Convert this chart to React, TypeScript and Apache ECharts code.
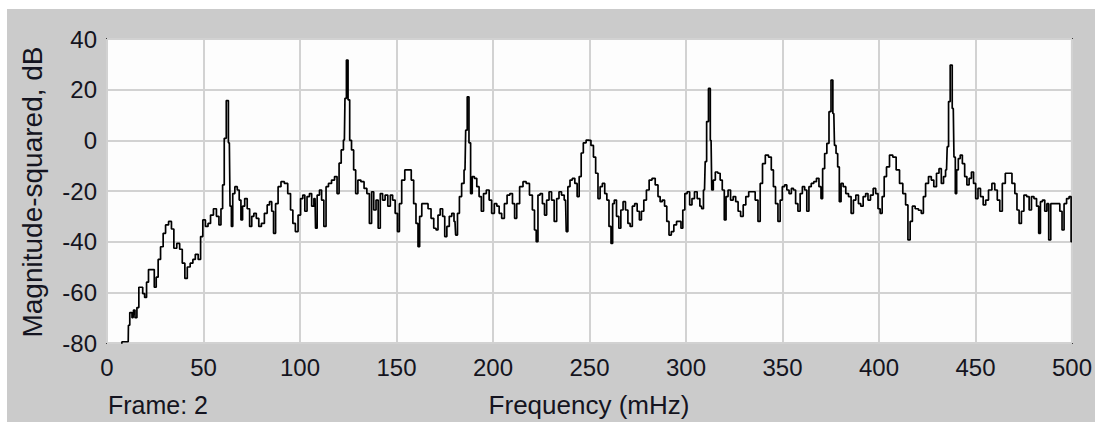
import React, { useEffect, useRef } from "react";
import * as echarts from "echarts";

const xTicks = [0, 50, 100, 150, 200, 250, 300, 350, 400, 450, 500];
const yTicks = [-80, -60, -40, -20, 0, 20, 40];

const freq = [
  0, 4, 7.5, 8, 11, 11.2, 12.4, 13.5, 14, 15, 16, 17, 18, 19, 20, 21, 22, 24, 25, 26, 27, 28.5, 29.7, 31, 32.8, 34, 35.3, 37, 38.3, 39.7,
  41, 42.2, 44, 45, 46.5, 48, 49, 50.3, 51.7, 53, 54.3, 56, 57.4, 58.6, 59.5, 60.3, 61.2, 62.4, 63.4, 64.1, 64.8, 65.5, 67, 68, 69, 69.8,
  70.7, 72, 73.3, 74.5, 75.5, 76.7, 78, 79.3, 80.7, 82.4, 83.6, 84.8, 85.9, 86.7, 88, 89.3, 91, 92.8, 94.5, 95.7, 96.9, 98.3, 99.7,
  100.9, 102, 103, 104.3, 105.5, 106.6, 107.8, 108.3, 109.5, 110.7, 111.7, 113, 114, 115.5, 117.2, 118.6, 119.8, 120.7, 122, 123,
  123.6, 124.5, 125.3, 126.2, 127.2, 128.4, 129.3, 130.7, 132.4, 134, 135.3, 136.6, 137.6, 138.8, 140, 141, 142.2, 143.4, 144.8,
  146.2, 147.4, 148.6, 150, 151, 152, 153.4, 155.2, 157, 158.3, 159.5, 160.7, 161.6, 162.4, 163.8, 165.5, 167.2, 168.6, 170, 171,
  172, 173.3, 174.5, 175.5, 176.7, 178, 179.3, 180.3, 181, 182.2, 183, 184.5, 185.5, 186.2, 187.1, 188, 188.8, 189.7, 191, 192.2,
  193.4, 194.5, 195.7, 197.4, 198.6, 200, 201.4, 202.6, 203.8, 205.2, 206.6, 208, 209.5, 210.7, 211.7, 212.9, 214.7, 216.4, 218,
  219.8, 221, 222, 222.8, 223.8, 225, 226.2, 227.2, 228.4, 229.7, 231, 232.4, 233.6, 234.8, 236.2, 237.6, 238.3, 239.3, 240.5,
  241.7, 243.1, 244.1, 245.2, 246.2, 247.4, 249.1, 250, 251.5, 252.6, 253.8, 255, 256, 257.3, 258.5, 259.5, 260.7, 261.6, 262.4,
  263.3, 264.7, 265.7, 266.8, 268, 269.3, 270.5, 271.6, 272.8, 274, 275.4, 276.3, 277.5, 278.8, 280.2, 281.6, 283.2, 284.9, 286.1,
  287.1, 288.3, 289.5, 290.6, 291.8, 293, 294.4, 295.8, 297, 297.8, 298.9, 299.9, 301.3, 302.5, 303.7, 305.1, 306.5, 307.9, 308.5,
  309.6, 310.3, 311.1, 312.2, 313, 313.7, 314.6, 315.8, 317.2, 318.2, 319.4, 320.3, 321.2, 322.4, 323.8, 325.1, 326.4, 327.6, 329,
  330.3, 331.7, 333.3, 335, 336.7, 337.9, 339, 340.3, 341.9, 343.6, 344.8, 345.8, 347, 348.3, 349.3, 350.5, 351.7, 352.8, 354,
  355.2, 356.2, 357.4, 358.6, 359.7, 360.9, 362.1, 363.1, 364.3, 365.5, 366.9, 368.3, 369.5, 370.4, 371.2, 372.5, 373.5, 374.7,
  375.6, 376.6, 377.3, 378.2, 379, 379.9, 380.8, 382.1, 383.5, 384.9, 386.2, 387.3, 388.7, 390, 391.1, 392.5, 393.7, 394.9, 396.3,
  397.7, 398.9, 400.1, 401.1, 402.2, 403.2, 404.6, 406.3, 408, 409.8, 411.5, 413.2, 414.4, 415.6, 416.7, 417.9, 419.6, 421.3, 422.5,
  423.5, 424.8, 426.5, 427.7, 429.1, 430.5, 431.7, 432.9, 434, 435, 435.7, 436.4, 437.4, 438.5, 439.2, 439.9, 440.6, 441.6, 442.6,
  443.8, 445, 446.1, 447.3, 448.5, 449.5, 450.7, 451.9, 453.3, 454.7, 455.9, 457.6, 459.4, 460.6, 462, 463.2, 464.6, 466.3, 468,
  469.8, 471, 472, 473.2, 474.4, 475.8, 477.2, 478.4, 479.6, 481, 482.3, 483.2, 484.1, 485.3, 486.5, 487.5, 488.4, 489.6, 491.3,
  493, 494.4, 495.3, 496.5, 497.9, 499.1, 500,
];

const magnitudeDb = [
  -95, -90, -82, -79.5, -79.5, -73, -68, -70, -67, -70, -66, -58, -58, -60.5, -62, -56, -51, -51, -58, -54, -47, -42, -36.7, -33.4, -32, -35, -42.6, -40.7, -43, -48.5,
  -54.5, -50, -48.5, -47, -45, -47, -38, -31.4, -34, -32.8, -29.5, -27, -30, -33.4, -27, -17.6, 0.8, 15.7, -1, -26, -34, -21, -18.3, -19.6, -23.6, -31.4,
  -26, -23, -27, -34, -30, -28.8, -30.8, -34, -32.8, -28.8, -25.5, -24.2, -28, -36.7, -25, -18.3, -16.3, -17, -21, -27.5, -32.8, -36, -29.5,
  -23, -21.6, -28, -22.2, -21, -26, -23, -34.7, -21.6, -19.6, -23.6, -34, -18.3, -17, -15.7, -14.3, -21, -9, -3.8, 0.1,
  16.6, 31.7, 16, 0, -3.8, -11.7, -21, -15.7, -16.3, -19, -21, -32.8, -20.3, -27.5, -23.6, -34.7, -21, -23.6, -21.6,
  -26, -21.6, -23.6, -28.8, -36, -25, -15.7, -11.7, -11.7, -15.7, -25, -32.8, -42, -30, -25, -25, -27, -30.8, -34.7, -35.4,
  -29.5, -27, -30, -38, -34, -30, -28.8, -32, -37.4, -28.8, -22.2, -17, -11.7, 4, 17.2, -1, -21, -14.3, -15, -18.3,
  -22.2, -28, -21, -19.6, -23.6, -28.8, -25, -26, -28.8, -30.8, -25, -21.6, -21, -25, -30.8, -25, -18.3, -16.3, -17,
  -21.6, -27.5, -35.4, -40, -21.6, -21, -25, -29.5, -23.6, -20.3, -23.6, -32, -23, -20.3, -21.6, -23.6, -36, -18.3, -15.7,
  -15, -17, -22.2, -14.3, -5, -1, 0.1, 0, -2, -6.6, -13, -23, -18.3, -17, -21, -23.6, -34, -40.7, -25,
  -23.6, -30, -34.7, -27.5, -24.2, -27.5, -32.8, -34, -26, -25, -28, -31.4, -28, -23.6, -19.6, -15.7, -15, -17.6, -22.2,
  -24.2, -23.6, -26, -32, -37.4, -36, -33.4, -32, -32, -34.7, -27.5, -21, -20.3, -25.5, -23, -20.3, -23, -26, -27,
  -19.6, -8.4, 7.4, 20.5, 0, -19.6, -15.7, -12.5, -13, -15.7, -19.6, -31.4, -22.2, -19.6, -23.6, -22.2, -24.2, -28, -30,
  -25.5, -22.2, -20.3, -20.3, -23.6, -32, -17, -9.2, -5.8, -6.6, -11.7, -18.3, -25, -32, -23.6, -18.3, -17.6, -19.6, -21,
  -19, -19.6, -25, -28, -21, -18.3, -19.6, -28, -18.3, -17, -16.3, -15, -18.3, -23, -11.2, -5.2, -1.2, 11.3,
  23.8, 10.6, -2, -5.2, -10.5, -24.2, -17, -18.3, -21, -22.2, -28.8, -23.6, -21.6, -25, -26, -22.2, -21, -23.6, -21.6,
  -19, -21, -27, -28.8, -22.2, -14.3, -10.5, -5.8, -6.6, -11.7, -17, -21, -25.5, -39.3, -32, -26, -27, -27.6, -28.8,
  -22.2, -17, -14.3, -15.7, -18.3, -13, -11.2, -17, -14.3, -11.7, -2.5, 15.3, 29.7, 12.6, -6.6, -21, -11.7, -7.2, -5.8,
  -9.2, -14.3, -17.6, -15, -12.5, -17, -23, -19, -22.2, -25.5, -23.6, -19.6, -17, -19.6, -23.6, -28, -17, -13, -13,
  -17, -21, -27.5, -32.8, -28, -21.6, -22.2, -27.5, -22.2, -23, -26, -36.7, -24.2, -23.6, -28, -25, -39.3, -25, -25,
  -25, -28, -35.4, -25, -23, -22.2, -40,
];

const FONT = "'Liberation Sans', Arial, sans-serif";
const TEXT = "#141420";

export default function App() {
  const ref = useRef<HTMLDivElement>(null);

  useEffect(() => {
    if (!ref.current) return;
    const chart = echarts.init(ref.current, null, { renderer: "svg" });
    const points = freq.map((f, i) => [f, magnitudeDb[i]]);
    chart.setOption({
      animation: false,
      backgroundColor: "#cbcbcb",
      grid: {
        left: 100,
        right: 23,
        top: 30,
        bottom: 79,
        show: true,
        backgroundColor: "#fdfdfd",
        borderColor: "#3a3a3a",
        borderWidth: 2,
        containLabel: false,
      },
      xAxis: {
        type: "value",
        min: xTicks[0],
        max: xTicks[xTicks.length - 1],
        interval: 50,
        axisLine: { show: false },
        axisTick: { show: false },
        axisLabel: {
          color: TEXT,
          fontFamily: FONT,
          fontSize: 24,
          margin: 12,
          showMinLabel: true,
          showMaxLabel: true,
        },
        splitLine: { show: true, lineStyle: { color: "#d2d2d2", width: 2 } },
      },
      yAxis: {
        type: "value",
        min: yTicks[0],
        max: yTicks[yTicks.length - 1],
        interval: 20,
        axisLine: { show: false },
        axisTick: { show: false },
        axisLabel: {
          color: TEXT,
          fontFamily: FONT,
          fontSize: 24,
          margin: 10,
          showMinLabel: true,
          showMaxLabel: true,
        },
        splitLine: { show: true, lineStyle: { color: "#d2d2d2", width: 2 } },
      },
      series: [
        {
          type: "line",
          data: points,
          step: "middle",
          showSymbol: false,
          symbol: "none",
          clip: true,
          lineStyle: { color: "#000000", width: 1.7 },
        },
      ],
      graphic: [
        {
          type: "text",
          rotation: Math.PI / 2,
          x: 25,
          y: 183,
          style: {
            text: "Magnitude-squared, dB",
            fill: TEXT,
            font: `28px ${FONT}`,
            align: "center",
            verticalAlign: "middle",
          },
        },
        {
          type: "text",
          x: 101,
          y: 396,
          style: {
            text: "Frame: 2",
            fill: TEXT,
            font: `25px ${FONT}`,
            align: "left",
            verticalAlign: "middle",
          },
        },
        {
          type: "text",
          x: 582,
          y: 396,
          style: {
            text: "Frequency (mHz)",
            fill: TEXT,
            font: `26px ${FONT}`,
            align: "center",
            verticalAlign: "middle",
          },
        },
      ],
    });
    return () => chart.dispose();
  }, []);

  return (
    <div
      ref={ref}
      style={{ position: "fixed", left: 7, top: 9, width: 1088, height: 413 }}
    />
  );
}
